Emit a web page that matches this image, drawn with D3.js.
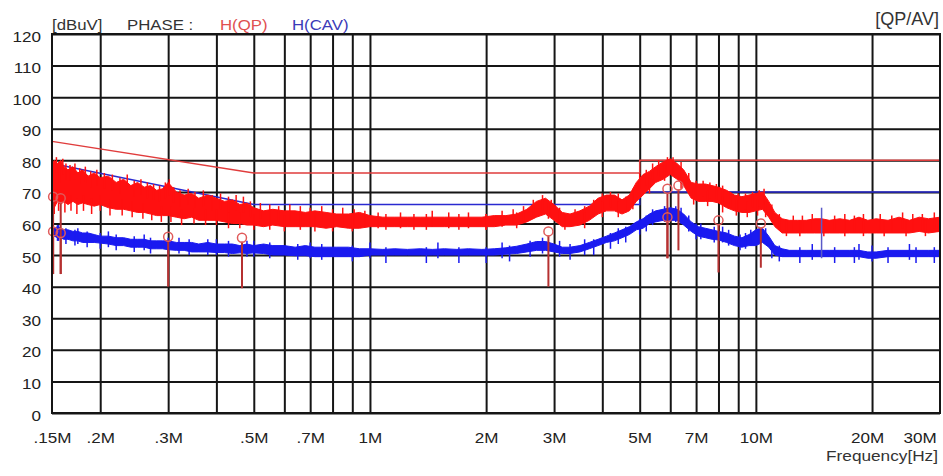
<!DOCTYPE html>
<html>
<head>
<meta charset="utf-8">
<script src="https://cdn.jsdelivr.net/npm/d3@7"></script>
<style>
  body { margin: 0; background: #fff; }
  text { font-family: "Liberation Sans", Arial, sans-serif; }
</style>
</head>
<body>
<div id="chart"></div>
<script>
// frequencies in MHz, shared by both traces
const freqs = [
  0.150, 0.152, 0.155, 0.158, 0.161, 0.165, 0.170, 0.175, 0.180, 0.186,
  0.193, 0.200, 0.210, 0.220, 0.230, 0.240, 0.250, 0.260, 0.270, 0.280,
  0.290, 0.300, 0.315, 0.330, 0.345, 0.360, 0.380, 0.400, 0.420, 0.440,
  0.460, 0.480, 0.500, 0.530, 0.560, 0.600, 0.640, 0.680, 0.720, 0.770,
  0.820, 0.880, 0.940, 1.00, 1.08, 1.16, 1.25, 1.35, 1.45, 1.56,
  1.68, 1.80, 1.95, 2.10, 2.25, 2.40, 2.55, 2.70, 2.85, 3.00,
  3.15, 3.30, 3.50, 3.70, 3.90, 4.10, 4.30, 4.50, 4.70, 4.90,
  5.10, 5.30, 5.50, 5.75, 6.00, 6.25, 6.50, 6.80, 7.10, 7.40,
  7.70, 8.00, 8.40, 8.80, 9.20, 9.60, 10.0, 10.4, 10.8, 11.2,
  11.7, 12.2, 12.8, 13.5, 14.2, 14.8, 15.5, 16.5, 17.5, 18.5,
  19.5, 20.5, 22.0, 23.5, 25.0, 26.5, 28.0, 30.0
];

// H(QP) trace, band of the noisy trace (dBuV)
const qpHi = [
  78, 80, 79, 80, 78, 77, 78, 76, 77, 75,
  76, 74.5, 75, 73, 74, 72, 73, 71.5, 72, 70.5,
  71, 73, 70, 69, 69.5, 68, 69, 68, 67, 67.5,
  66, 66.5, 65, 64, 64.5, 64, 64, 63.5, 64, 63.5,
  63, 63, 63.5, 62.5, 62, 62, 62, 62, 62, 62,
  62, 62, 62, 62.5, 62.5, 63, 64.5, 67, 68, 66,
  63.5, 63, 64, 65.5, 68, 69, 69, 67.5, 69, 73,
  75.5, 76.5, 78, 79.5, 80.5, 79, 77, 73, 72.5, 72.5,
  72, 71.5, 70.5, 69, 68.5, 69, 69.5, 70, 67, 63.5,
  61.5, 61, 61, 61, 61.5, 61.5, 61, 61.5, 61, 62,
  61, 61.5, 61, 62, 61, 62, 61.5, 62
];
const qpLo = [
  66, 65, 67, 66, 67, 66, 67, 66, 66.5, 66,
  65.5, 66, 65, 64.5, 64.5, 64, 63.5, 63.5, 63, 62.5,
  62.5, 62.5, 62, 61.5, 62, 61, 61, 61, 60.5, 60,
  60, 59.5, 59.5, 59, 59.5, 59, 59, 59, 59, 58.5,
  59, 58.5, 58.5, 59, 59, 59, 59, 59, 59, 59,
  59, 59, 59, 59, 59.5, 59.5, 60.5, 62, 63, 61,
  59, 59, 59.5, 61, 63, 64, 64, 63, 64, 67,
  69, 71, 73, 74, 75.5, 74, 72, 68, 67, 67,
  67, 66.5, 65, 64, 63.5, 63.5, 64, 64.5, 62, 59,
  57, 57, 57, 57, 57, 57, 57, 57, 57, 57,
  57, 57, 57, 57, 57, 57.5, 57, 57.5
];

// H(CAV) trace band (dBuV)
const avHi = [
  59, 58.5, 59, 58.5, 58, 58, 57.5, 57.5, 57, 57,
  56.5, 56, 56, 55.5, 55.5, 55, 55, 55, 54.5, 54.5,
  54.5, 54.5, 54, 54, 54, 53.5, 54, 53.5, 53.5, 53.5,
  53, 53.5, 53, 53.5, 53, 53, 52.5, 53, 52.5, 52.5,
  52.5, 52.5, 52, 52, 51.8, 52, 51.8, 52, 51.8, 52,
  51.8, 52, 51.8, 52, 52.3, 52.8, 53.5, 54.3, 54.3, 53.5,
  52.5, 52.5, 53, 54, 55, 56, 57, 58, 59, 60.5,
  61.5, 63, 64, 64.5, 65, 64.5, 63, 60.5, 59, 58.5,
  58, 57.5, 57, 56, 55.5, 56.5, 58, 58.5, 56, 53,
  52, 51.5, 51.5, 51.5, 51.5, 51.5, 51.5, 51.5, 51.5, 51.5,
  51, 51, 51.5, 51.5, 51.5, 51.5, 51.5, 51.5
];
const avLo = [
  55.5, 56, 55.5, 55.5, 55, 55, 54.5, 54.5, 54, 54,
  54, 53.8, 53.5, 53, 53, 52.5, 52.5, 52.5, 52, 52,
  52, 51.7, 51.5, 51.5, 51, 51, 51, 50.8, 50.8, 50.5,
  50.7, 50.5, 50.7, 50.5, 50, 50, 49.8, 49.8, 49.5, 49.5,
  49.5, 49.5, 49.5, 50, 50, 50, 50, 50, 50, 50,
  50, 50, 50, 50, 50.3, 50.5, 51, 51.5, 51.5, 51,
  50.5, 50.5, 51, 52, 53, 54, 54.5, 55.5, 56.5, 58,
  58.5, 60, 60.5, 61, 61, 61, 59.5, 57.5, 56, 55.5,
  55, 54.8, 54, 53, 52.5, 53, 53, 54, 52.5, 50,
  49.5, 49.5, 49.5, 49.5, 49.5, 49.5, 49.5, 49.5, 49.5, 49.5,
  49, 49, 49.5, 49.5, 49.5, 49.5, 49.5, 49.5
];

// noise peaks sticking out of the traces: [freq MHz, dBuV]
const qpUp = [
  [0.151, 79], [0.154, 81], [0.157, 78], [0.160, 80.5], [0.163, 79], [0.167, 78.5], [0.172, 79],
  [0.177, 77.5], [0.183, 78], [0.189, 76.5], [0.196, 77], [0.205, 76], [0.215, 75.5], [0.225, 74.5],
  [0.235, 75.5], [0.245, 73.5], [0.255, 74], [0.265, 73], [0.275, 72.5], [0.285, 72], [0.295, 73],
  [0.302, 74], [0.31, 71.5], [0.322, 70.5], [0.338, 71], [0.352, 70], [0.37, 70.5], [0.39, 69],
  [0.41, 69.5], [0.43, 68.5], [0.45, 69], [0.47, 68.5], [0.49, 67], [0.52, 66.5], [0.55, 66],
  [0.58, 65.5], [0.62, 66], [0.66, 65.5], [0.70, 65], [0.75, 65.5], [0.80, 64.5], [0.85, 65],
  [0.91, 64.5], [0.97, 64], [1.05, 63.5], [1.2, 63.5], [1.3, 63], [1.45, 64], [1.6, 63.5],
  [1.8, 63.5], [2.0, 63], [2.2, 64], [2.35, 64.5], [2.5, 65.5], [2.65, 67.5], [2.8, 69],
  [2.95, 67.5], [3.1, 65], [3.4, 64.5], [3.6, 65.5], [3.8, 67.5], [4.0, 69.5], [4.2, 70],
  [4.4, 69.5], [4.6, 68.5], [4.8, 71], [5.0, 76], [5.2, 77], [5.4, 79], [5.6, 80], [5.9, 81],
  [6.1, 81], [6.4, 79.5], [6.7, 76], [7.0, 73.5], [7.3, 73.5], [7.6, 73], [7.9, 72.5], [8.2, 72],
  [8.6, 70], [9.0, 69.5], [9.4, 69.5], [9.8, 70], [10.2, 70.5], [10.5, 71], [11.0, 66], [11.5, 63],
  [12.5, 62.5], [13.2, 62.5], [14.0, 63], [16.0, 62.5], [17.0, 63], [18.0, 62.5], [19.0, 63],
  [21.0, 63], [22.5, 62.5], [24.0, 63.5], [25.5, 63], [27.0, 63], [29.0, 63.5]
];
const qpDown = [
  [0.152, 63], [0.156, 64], [0.162, 63.5], [0.168, 64], [0.174, 63], [0.181, 64], [0.19, 63],
  [0.2, 64], [0.212, 62.5], [0.228, 62.5], [0.242, 62], [0.258, 61.5], [0.272, 61], [0.288, 60.5],
  [0.305, 60.5], [0.325, 59.5], [0.35, 60], [0.375, 59.5], [0.4, 59.5], [0.43, 58.5], [0.46, 58.5],
  [0.5, 58], [0.55, 58], [0.6, 57.5], [0.66, 58], [0.72, 57.5], [0.8, 57.5], [0.9, 57.5], [1.1, 58],
  [1.4, 58], [1.7, 58], [2.0, 58], [2.4, 58.5], [2.9, 61.5], [3.2, 58], [3.6, 58.5], [4.0, 62],
  [4.4, 62], [4.8, 64.5], [5.3, 69.5], [5.8, 73.5], [6.4, 71], [6.9, 66], [7.5, 65.5], [8.2, 63.5],
  [8.9, 62.5], [9.5, 62], [10.1, 62.5], [10.6, 62], [12.0, 56], [13.0, 56], [15.0, 56], [17.0, 56],
  [19.0, 56], [21.5, 56], [24.5, 56], [27.5, 56]
];
const avUp = [
  [0.151, 59.5], [0.156, 59.5], [0.163, 58.5], [0.172, 58], [0.185, 57.5], [0.2, 57], [0.22, 56.5],
  [0.245, 56], [0.27, 55.5], [0.3, 55.5], [0.34, 55], [0.38, 55], [0.43, 54.5], [0.48, 54.5],
  [0.55, 54], [0.65, 53.5], [0.75, 53.5], [0.9, 53], [1.1, 52.5], [1.4, 52.5], [1.7, 52.5],
  [2.0, 52.5], [2.3, 53], [2.6, 54.5], [2.8, 55.5], [3.3, 53.5], [3.8, 55], [4.2, 57], [4.6, 59],
  [5.0, 61.5], [5.4, 64.5], [5.8, 65.5], [6.2, 65.5], [6.7, 62.5], [7.2, 60], [7.8, 59], [8.5, 58],
  [9.1, 56.5], [9.7, 58], [10.2, 59], [10.6, 58.5], [11.5, 53], [13, 52.5], [16, 52.5], [18, 52.5],
  [22, 52.5], [26, 52.5], [29, 52.5]
];
const avDown = [
  [0.155, 54.5], [0.175, 53.5], [0.21, 52.5], [0.26, 51.5], [0.32, 50.5], [0.4, 50], [0.5, 49.5],
  [0.7, 49], [1.0, 49], [1.5, 49], [2.2, 49], [3.1, 49.5], [3.6, 50], [4.4, 53.5], [5.2, 57.5],
  [6.4, 60], [7.0, 55], [8.2, 54], [9.4, 52], [11.0, 49], [14.0, 48.5], [18.5, 48.5], [20.0, 48],
  [25.0, 48.5]
];
// single line spike across both traces: [freq MHz, bottom, top]
const avSpikes = [[14.8, 49, 65]];

// limit lines
const qpLimitF = [0.15, 0.5, 5, 5, 30];
const qpLimitV = [86, 76, 76, 80, 80];
const avLimitF = [0.15, 0.5, 5, 5, 30];
const avLimitV = [79, 66, 66, 70, 70];

// markers: [freq MHz, circle level, line bottom]
const qpMarks = [[0.151, 68.5, 44], [0.158, 68, 44], [5.9, 71, 49], [6.3, 72, 51.5]];
const avMarks = [[0.151, 57.5, 44], [0.158, 57, 44], [0.30, 55.8, 40], [0.466, 55.5, 39.5],
  [2.9, 57.5, 40], [5.9, 62, 49], [8.0, 61, 44.5], [10.3, 60, 46]];

// axes
const gridFreqs = [0.2, 0.3, 0.4, 0.5, 0.6, 0.7, 0.8, 0.9, 1, 2, 3, 4, 5, 6, 7, 8, 9, 10, 20];
const xTickVals = [0.15, 0.2, 0.3, 0.5, 0.7, 1, 2, 3, 5, 7, 10, 20, 30];
const xTickLabels = [".15M", ".2M", ".3M", ".5M", ".7M", "1M", "2M", "3M", "5M", "7M", "10M", "20M", "30M"];
const yTickVals = [0, 10, 20, 30, 40, 50, 60, 70, 80, 90, 100, 110, 120];

function dibujarEmision(selector) {
    const W = 943, H = 476;
    const margin = { top: 34, right: 3, bottom: 63, left: 52 },
        width = W - margin.left - margin.right,
        height = H - margin.top - margin.bottom;

    const root = d3.select(selector).append("svg")
        .attr("width", W)
        .attr("height", H);

    const svg = root.append("g")
        .attr("transform", "translate(" + margin.left + "," + margin.top + ")");

    const x = d3.scaleLog().domain([0.15, 30]).range([0, width]);
    const y = d3.scaleLinear().domain([0, 120]).range([height, 0]);

    // vertical grid
    svg.append("g")
        .attr("transform", "translate(0," + height + ")")
        .call(d3.axisBottom(x).tickValues(gridFreqs).tickSize(-height).tickFormat(""))
        .call(g => g.select(".domain").remove())
        .call(g => g.selectAll("line").attr("stroke", "#151515").attr("stroke-width", 2));

    // horizontal grid
    svg.append("g")
        .call(d3.axisLeft(y).tickValues(yTickVals).tickSize(-width).tickFormat(""))
        .call(g => g.select(".domain").remove())
        .call(g => g.selectAll("line").attr("stroke", "#151515").attr("stroke-width", 2));

    // x labels
    svg.append("g")
        .attr("transform", "translate(0," + height + ")")
        .call(d3.axisBottom(x).tickValues(xTickVals).tickSize(0).tickFormat((d, i) => xTickLabels[i]))
        .call(g => g.select(".domain").remove())
        .call(g => g.selectAll("text")
            .attr("y", 30).attr("dy", null)
            .attr("font-size", 14).attr("fill", "#222")
            .attr("font-family", "Liberation Sans, Arial, sans-serif")
            .attr("transform", "scale(1.22,1)"))
        .call(g => g.selectAll("text").filter(d => d === 30)
            .attr("text-anchor", "end").attr("x", -3))
        .call(g => g.selectAll("text").filter(d => d === 20)
            .attr("x", -4));

    // y labels
    svg.append("g")
        .call(d3.axisLeft(y).tickValues(yTickVals).tickSize(0))
        .call(g => g.select(".domain").remove())
        .call(g => g.selectAll("text")
            .attr("x", 0).attr("y", 7).attr("dy", null)
            .attr("font-size", 14).attr("fill", "#222")
            .attr("font-family", "Liberation Sans, Arial, sans-serif")
            .attr("transform", "translate(-11,0) scale(1.22,1)"));

    // limit lines
    const lim = d3.line().x(d => x(d[0])).y(d => y(d[1]));
    svg.append("path")
        .datum(d3.zip(qpLimitF, qpLimitV))
        .attr("fill", "none").attr("stroke", "#e03c3c").attr("stroke-width", 1.5)
        .attr("d", lim);
    svg.append("path")
        .datum(d3.zip(avLimitF, avLimitV))
        .attr("fill", "none").attr("stroke", "#2a2ad0").attr("stroke-width", 1.5)
        .attr("d", lim);

    // traces
    const band = d3.area()
        .x(d => x(d[0]))
        .y0(d => y(d[1]))
        .y1(d => y(d[2]));

    function picos(data, color, dir) {
        svg.append("g").selectAll("line")
            .data(data)
            .enter().append("line")
            .attr("x1", d => x(d[0])).attr("x2", d => x(d[0]))
            .attr("y1", d => y(d[1])).attr("y2", d => y(d[1] - dir * 5))
            .attr("stroke", color).attr("stroke-width", 1.5);
    }

    svg.append("path")
        .datum(d3.zip(freqs, avLo, avHi))
        .attr("fill", "#1a1af0").attr("stroke", "#1a1af0").attr("stroke-width", 1)
        .attr("d", band);
    picos(avUp, "#1a1af0", 1);
    picos(avDown, "#1a1af0", -1);

    svg.append("path")
        .datum(d3.zip(freqs, qpLo, qpHi))
        .attr("fill", "#ff1010").attr("stroke", "#ff1010").attr("stroke-width", 1)
        .attr("d", band);
    picos(qpUp, "#ff1010", 1);
    picos(qpDown, "#ff1010", -1);

    svg.selectAll(".avspike")
        .data(avSpikes)
        .enter().append("line")
        .attr("x1", d => x(d[0])).attr("x2", d => x(d[0]))
        .attr("y1", d => y(d[1])).attr("y2", d => y(d[2]))
        .attr("stroke", "#5a5ac8").attr("stroke-width", 1.5);

    // markers
    const marks = qpMarks.concat(avMarks);
    svg.selectAll(".mline")
        .data(marks)
        .enter().append("line")
        .attr("x1", d => x(d[0])).attr("x2", d => x(d[0]))
        .attr("y1", d => y(d[1]) + 4).attr("y2", d => y(d[2]))
        .attr("stroke", "#b53030").attr("stroke-width", 2);
    svg.selectAll(".mcirc")
        .data(marks)
        .enter().append("circle")
        .attr("cx", d => x(d[0]))
        .attr("cy", d => y(d[1]))
        .attr("r", 4.5)
        .attr("fill", "none")
        .attr("stroke", "#e05a5a").attr("stroke-width", 1.5);

    // frame
    svg.append("rect")
        .attr("width", width).attr("height", height)
        .attr("fill", "none").attr("stroke", "#151515").attr("stroke-width", 2);

    // header and unit texts
    function texto(str, px, py, anchor, color, size, sx) {
        root.append("text")
            .attr("transform", "translate(" + px + "," + py + ") scale(" + sx + ",1)")
            .attr("text-anchor", anchor)
            .attr("font-size", size)
            .attr("fill", color)
            .text(str);
    }
    texto("[dBuV]", 52, 30, "start", "#333", 14, 1.2);
    texto("PHASE :", 127, 30, "start", "#333", 14, 1.2);
    texto("H(QP)", 220, 30, "start", "#e05050", 14, 1.2);
    texto("H(CAV)", 292, 30, "start", "#3a3ab8", 14, 1.2);
    texto("[QP/AV]", 939, 25, "end", "#333", 18, 1);
    texto("Frequency[Hz]", 938, 461, "end", "#333", 14, 1.23);
}

dibujarEmision("#chart");
</script>
</body>
</html>
